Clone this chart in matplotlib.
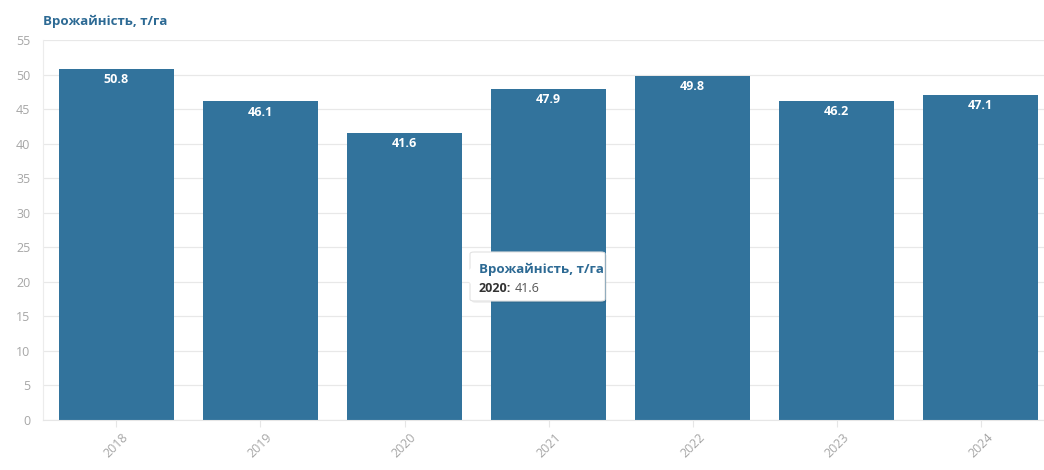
import matplotlib
matplotlib.use("Agg")
import matplotlib.pyplot as plt
from matplotlib.patches import FancyBboxPatch, Polygon

plt.rcParams['font.family'] = ['Open Sans', 'DejaVu Sans']

years = ['2018', '2019', '2020', '2021', '2022', '2023', '2024']
yields = [50.8, 46.1, 41.6, 47.9, 49.8, 46.2, 47.1]
y_ticks = [0, 5, 10, 15, 20, 25, 30, 35, 40, 45, 50, 55]
title = 'Врожайність, т/га'
tip_idx = 2

bar_color = '#32739c'
title_color = '#2d6a94'

fig = plt.figure(figsize=(10.44, 4.7), dpi=100)
ax = fig.add_axes([43 / 1044, 1 - 420 / 470, 1 - 43 / 1044, 380 / 470])

x = list(range(len(years)))
ax.bar(x, yields, width=0.8, color=bar_color, zorder=2)
for xi, v in zip(x, yields):
    ax.text(xi, v - 0.6, f'{v:.1f}', ha='center', va='top', color='white',
            fontsize=9, fontweight='bold', zorder=3)

ax.set_xlim(-0.51, 6.44)
ax.set_ylim(0, 55)
ax.set_yticks(y_ticks)
ax.set_xticks(x)
ax.set_xticklabels(years, rotation=45, ha='center')
ax.tick_params(axis='y', length=0, colors='#a6a6a6', labelsize=9, pad=9)
ax.tick_params(axis='x', length=5, color='#e6e6e6', colors='#a6a6a6',
               labelsize=9, pad=3)
ax.grid(axis='y', color='#e8e8e8', linewidth=0.9, zorder=0)
for s in ['top', 'right']:
    ax.spines[s].set_visible(False)
ax.spines['left'].set_color('#ececec')
ax.spines['bottom'].set_color('#e6e6e6')

fig.text(43 / 1044, 1 - 21 / 470, title, color=title_color, fontsize=9.5,
         fontweight='bold', va='center', ha='left')

# підказка
W, H = 1044, 470
x0, y0, x1, y1 = 470, 252, 605, 301
shadow = FancyBboxPatch(((x0 + 2) / W, 1 - (y1 + 2) / H), (x1 - x0) / W, (y1 - y0) / H,
                        boxstyle='round,pad=0,rounding_size=0.004',
                        transform=fig.transFigure, facecolor='#000000', alpha=0.06,
                        edgecolor='none', zorder=9)
fig.add_artist(shadow)
box = FancyBboxPatch((x0 / W, 1 - y1 / H), (x1 - x0) / W, (y1 - y0) / H,
                     boxstyle='round,pad=0,rounding_size=0.004',
                     transform=fig.transFigure, facecolor='white',
                     edgecolor='#e2e2e2', linewidth=0.8, zorder=10)
fig.add_artist(box)
ptr = Polygon([(x0 / W + 0.001, 1 - 268 / H), ((x0 - 7) / W, 1 - 276 / H),
               (x0 / W + 0.001, 1 - 284 / H)], closed=True,
              transform=fig.transFigure, facecolor='white', edgecolor='none',
              zorder=11)
fig.add_artist(ptr)
fig.text(479 / W, 1 - 269 / H, title, color=title_color, fontsize=9.6,
         fontweight='bold', va='center', ha='left', zorder=12)
fig.text(479 / W, 1 - 288 / H, f'{years[tip_idx]}:', color='#333333',
         fontsize=9, fontweight='bold', va='center', ha='left', zorder=12)
fig.text(515 / W, 1 - 288 / H, f'{yields[tip_idx]:.1f}', color='#555555',
         fontsize=9, va='center', ha='left', zorder=12)

fig.savefig('out.png', dpi=100)
